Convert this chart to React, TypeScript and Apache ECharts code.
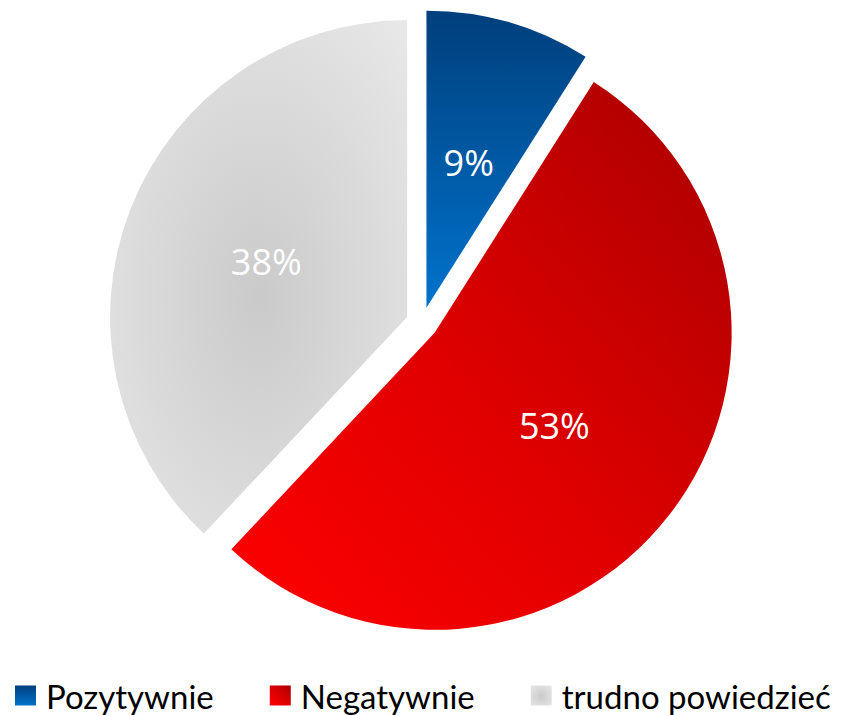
import React, { useEffect, useRef } from "react";
import * as echarts from "echarts";

const categories = ["Pozytywnie", "Negatywnie", "trudno powiedzieć"];
const values = [9, 53, 38];

const fills = [
  new echarts.graphic.LinearGradient(0, 0, 0, 1, [
    { offset: 0, color: "#003f7c" },
    { offset: 1, color: "#0073cc" },
  ]),
  new echarts.graphic.LinearGradient(1, 0, 0, 1, [
    { offset: 0, color: "#a80000" },
    { offset: 0.55, color: "#e00000" },
    { offset: 1, color: "#ff0000" },
  ]),
  new echarts.graphic.RadialGradient(0.5, 0.54, 0.75, [
    { offset: 0, color: "#cacaca" },
    { offset: 1, color: "#e9e9e9" },
  ]),
];

export default function App() {
  const ref = useRef<HTMLDivElement>(null);
  useEffect(() => {
    const chart = echarts.init(ref.current!, null, { renderer: "svg" });
    chart.setOption({
      animation: false,
      legend: {
        data: categories,
        left: 15,
        top: 679,
        padding: 0,
        itemWidth: 21,
        itemHeight: 20,
        itemGap: 56,
        icon: "rect",
        textStyle: { fontFamily: "Lato", fontSize: 33, color: "#000", padding: [0, 0, 0, 5] },
        selectedMode: false,
      },
      series: [
        {
          type: "pie",
          center: [422, 323],
          radius: [0, 297],
          startAngle: 90,
          clockwise: true,
          selectedMode: "multiple",
          selectedOffset: 16,
          emphasis: { disabled: true },
          label: {
            position: "inside",
            formatter: "{c}%",
            color: "#fff",
            fontFamily: "Open Sans",
            fontSize: 36,
          },
          labelLine: { show: false },
          data: categories.map((name, i) => ({
            name,
            value: values[i],
            selected: true,
            itemStyle: { color: fills[i] },
            select: { itemStyle: { color: fills[i] } },
          })),
        },
      ],
    });
    return () => chart.dispose();
  }, []);
  return (
    <div
      ref={ref}
      style={{ position: "fixed", left: 0, top: 0, width: 847, height: 715, background: "#fff" }}
    />
  );
}
